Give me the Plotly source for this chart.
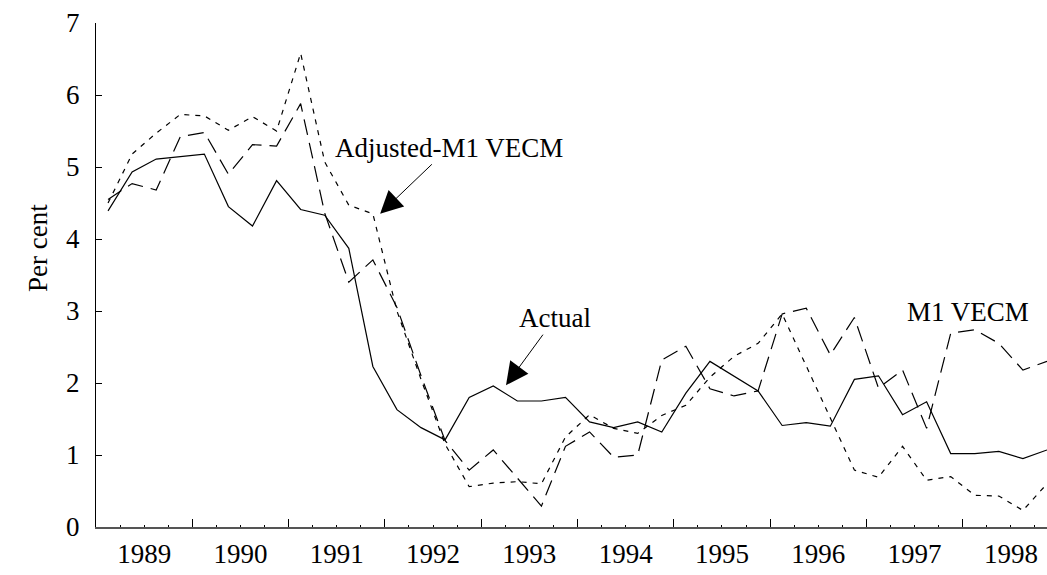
import plotly.graph_objects as go

# quarterly, 1989Q1 .. 1998Q4
years = list(range(1989, 1999))
actual = [
    4.39, 4.93, 5.11, 5.14,
    5.18, 4.45, 4.18, 4.81,
    4.41, 4.33, 3.87, 2.23,
    1.63, 1.38, 1.21, 1.80,
    1.96, 1.75, 1.75, 1.80,
    1.46, 1.38, 1.46, 1.32,
    1.86, 2.30, 2.10, 1.89,
    1.41, 1.45, 1.40, 2.05,
    2.10, 1.56, 1.74, 1.02,
    1.02, 1.05, 0.95, 1.07,
]
m1_vecm = [
    4.55, 4.77, 4.68, 5.42,
    5.48, 4.90, 5.31, 5.29,
    5.88, 4.36, 3.40, 3.71,
    3.05, 2.10, 1.20, 0.79,
    1.07, 0.68, 0.29, 1.12,
    1.32, 0.97, 1.00, 2.32,
    2.51, 1.92, 1.82, 1.89,
    2.96, 3.04, 2.39, 2.91,
    1.93, 2.18, 1.37, 2.69,
    2.74, 2.55, 2.18, 2.30,
]
adj_m1_vecm = [
    4.50, 5.18, 5.47, 5.73,
    5.71, 5.51, 5.70, 5.50,
    6.58, 5.07, 4.47, 4.35,
    3.00, 2.05, 1.15, 0.56,
    0.61, 0.63, 0.60, 1.25,
    1.56, 1.37, 1.30, 1.55,
    1.69, 2.08, 2.37, 2.55,
    2.96, 2.24, 1.51, 0.79,
    0.69, 1.12, 0.65, 0.70,
    0.44, 0.43, 0.23, 0.60,
]

quarters = list(range(len(actual)))
FONT = "Liberation Serif, Times New Roman, serif"
FSIZE = 27

fig = go.Figure()
for vals, name, dash in [
    (actual, "Actual", "solid"),
    (m1_vecm, "M1 VECM", "16px,8px"),
    (adj_m1_vecm, "Adjusted-M1 VECM", "5px,6px"),
]:
    fig.add_trace(go.Scatter(
        x=quarters, y=vals, mode="lines", name=name,
        line={"color": "black", "width": 1.2, "dash": dash},
    ))

# empty trace on the label axis so it renders
fig.add_trace(go.Scatter(x=[quarters[0]], y=[None], xaxis="x2",
                         showlegend=False, hoverinfo="skip"))

xrange = [-0.5, len(actual) - 1]
fig.update_layout(
    width=1047, height=575,
    margin={"l": 96, "r": 0, "t": 23, "b": 48},
    plot_bgcolor="white", paper_bgcolor="white",
    showlegend=False,
    font={"family": FONT, "size": FSIZE, "color": "black"},
    xaxis=dict(
        range=xrange, showgrid=False, zeroline=False,
        showline=True, linecolor="#555", linewidth=1.5,
        tickmode="array", tickvals=[4 * i - 0.5 for i in range(len(years))],
        ticks="inside", ticklen=8, tickcolor="black", tickwidth=1,
        showticklabels=False,
        minor=dict(tick0=-0.5, dtick=1, ticks="inside", ticklen=2,
                   tickcolor="black", tickwidth=1),
    ),
    xaxis2=dict(
        range=xrange, overlaying="x", anchor="y", side="bottom",
        showgrid=False, zeroline=False, showline=False,
        tickmode="array", tickvals=[4 * i + 1.5 for i in range(len(years))],
        ticktext=[str(y) for y in years], ticks="",
        ticklabelstandoff=8,
    ),
    yaxis=dict(
        range=[0, 7], showgrid=False, zeroline=False,
        showline=True, linecolor="black", linewidth=1.2,
        tickmode="array", tickvals=list(range(8)),
        ticks="inside", ticklen=6, tickcolor="black",
        ticklabelstandoff=10,
    ),
)

arrow = dict(showarrow=True, arrowhead=2, arrowsize=4.5, arrowwidth=1,
             arrowcolor="black", font={"family": FONT, "size": FSIZE})
fig.add_annotation(x=11.3, y=4.35, ax=69, ay=-66, text="Adjusted-M1 VECM", **arrow)
fig.add_annotation(x=16.53, y=1.97, ax=49, ay=-67, text="Actual", **arrow)
fig.add_annotation(x=35.7, y=2.99, text="M1 VECM", showarrow=False)
fig.add_annotation(x=-0.061, y=0.5536, xref="paper", yref="paper", text="Per cent",
                   textangle=-90, showarrow=False, xanchor="center", yanchor="middle")

fig.write_html("out.html", config={"displayModeBar": False},
               post_script="document.body.style.margin='0';")
